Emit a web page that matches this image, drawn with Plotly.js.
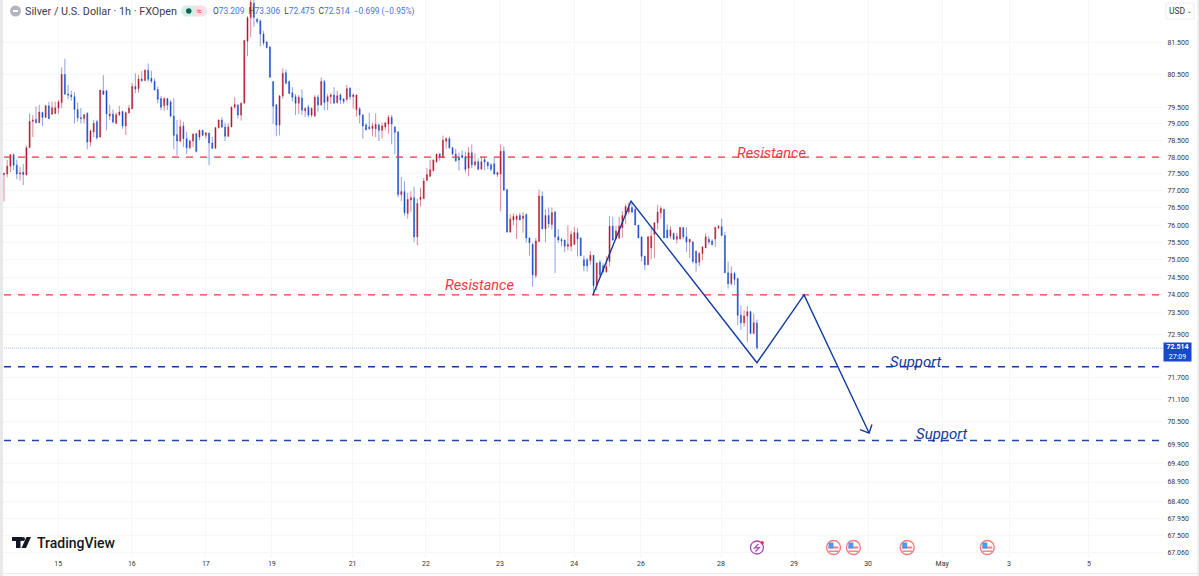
<!DOCTYPE html>
<html><head><meta charset="utf-8">
<script src="https://cdn.plot.ly/plotly-3.0.1.min.js"></script>
<style>html,body{margin:0;padding:0;background:#fff;overflow:hidden}#c{width:1199px;height:576px}</style>
</head><body><div id="c"></div>
<script>
const openP=[77.48,77.50,77.73,78.07,77.76,77.50,77.55,77.47,78.28,79.07,79.13,79.03,79.34,79.19,79.54,79.29,79.31,79.47,79.64,80.50,79.90,79.87,79.82,79.43,79.18,79.16,79.31,78.45,78.75,79.06,78.60,80.00,80.00,79.23,79.29,79.01,79.27,79.37,78.93,79.33,79.45,80.13,80.06,80.36,80.31,80.63,80.38,80.29,80.04,79.76,79.54,79.76,79.66,79.23,78.67,78.48,78.93,78.55,78.28,78.48,78.70,78.60,
78.80,78.65,78.72,78.42,78.26,78.88,79.11,78.90,78.62,78.90,79.50,79.56,79.26,79.62,81.53,82.26,82.72,82.21,82.16,81.75,81.50,81.35,80.28,79.57,78.96,79.84,80.55,80.28,79.94,79.82,79.62,79.78,79.39,79.50,79.26,79.23,79.80,79.57,80.28,79.67,79.82,79.87,79.64,79.87,79.75,79.74,80.08,79.82,79.43,79.45,79.26,78.96,78.90,78.85,78.85,78.96,78.80,78.90,78.99,79.19,78.90,78.75,
76.89,76.98,76.34,76.73,76.80,75.66,76.75,76.77,77.31,77.43,77.60,77.86,78.09,77.99,78.47,78.55,78.28,78.09,77.99,78.05,78.01,77.67,78.13,77.77,77.86,77.64,77.93,77.85,77.77,77.80,77.48,77.50,78.17,77.04,75.80,76.15,76.17,76.28,76.19,76.31,75.63,75.44,74.55,75.53,76.85,75.89,76.28,76.02,76.38,75.66,75.58,75.57,75.39,
75.39,75.44,75.78,75.63,75.00,75.00,74.98,75.13,74.28,74.93,74.83,74.66,74.95,75.97,75.60,75.63,75.92,76.28,76.38,76.51,76.46,76.00,75.66,75.10,74.86,75.34,75.73,76.07,76.36,76.46,75.86,75.68,75.76,75.59,75.60,75.93,75.66,75.51,75.51,75.25,74.93,75.18,75.34,75.59,75.54,75.60,75.92,75.95,75.70,74.63,74.32,74.61,74.47,73.43,73.22,73.41,73.53,72.92,73.209];
const highP=[77.52,77.92,78.09,78.11,77.92,77.71,77.79,78.34,79.31,79.26,79.52,79.57,79.36,79.57,79.66,79.67,79.67,79.72,80.72,80.99,80.18,80.00,79.96,79.64,79.47,79.29,79.35,78.82,79.11,79.11,80.02,80.48,80.02,79.57,79.43,79.33,79.54,79.39,79.37,79.57,80.25,80.53,80.48,80.61,80.66,80.84,80.61,80.38,80.13,79.84,79.80,79.78,79.72,79.77,79.11,79.13,79.06,78.75,78.52,78.72,78.72,78.82,
78.82,78.75,78.72,78.60,78.90,79.13,79.19,79.03,79.01,79.52,79.80,79.60,79.64,81.57,82.31,82.85,82.90,82.26,82.21,81.85,81.53,81.37,80.28,79.60,79.87,80.69,80.65,80.31,80.11,79.90,79.87,80.04,79.50,79.57,79.50,79.87,79.87,80.41,80.33,79.90,79.94,80.11,80.00,79.92,79.77,80.18,80.11,79.92,79.88,79.50,79.29,79.01,79.33,79.03,79.31,79.01,79.03,79.03,79.26,79.26,78.93,78.78,
77.41,77.28,76.94,76.99,77.12,76.77,77.09,77.38,77.67,77.91,77.93,78.09,78.13,78.64,78.59,78.61,78.30,78.25,78.13,78.20,78.16,78.30,78.38,78.11,77.96,78.03,78.01,77.86,77.82,77.99,77.57,78.38,78.32,77.04,76.31,76.34,76.31,76.36,76.38,76.34,75.64,75.49,75.63,77.04,76.99,76.46,76.51,76.51,76.41,75.88,75.63,75.58,75.99,
75.83,75.95,75.92,75.63,75.12,75.05,75.25,75.13,74.91,75.00,74.91,75.10,76.26,76.24,75.97,76.24,76.41,76.60,76.67,76.65,76.51,76.00,75.66,75.12,75.68,75.92,76.07,76.60,76.56,76.46,76.02,75.97,75.78,75.78,75.95,75.93,75.93,75.59,75.54,75.25,75.22,75.39,75.76,75.68,75.59,75.95,75.99,76.19,75.80,74.95,74.81,74.66,74.47,73.71,73.57,73.68,73.55,73.48,73.306];
const lowP=[76.69,77.40,77.56,77.61,77.34,77.30,77.17,77.47,78.28,78.60,79.03,79.03,78.93,79.19,79.15,79.26,79.29,79.29,79.47,79.87,79.74,79.70,79.01,79.06,79.01,79.01,78.23,78.32,78.60,78.52,78.58,79.87,78.80,79.11,79.01,78.99,79.23,78.85,78.66,79.31,79.44,79.92,79.94,80.28,80.31,80.28,80.23,80.02,79.62,79.41,79.39,79.41,79.19,78.23,78.04,78.45,78.30,78.09,78.24,78.30,78.14,78.50,
78.62,78.55,77.76,78.24,78.26,78.85,78.88,78.48,78.60,78.90,79.46,79.16,79.09,79.62,81.06,81.65,81.98,82.08,81.37,81.40,81.30,80.41,78.99,78.62,78.65,79.76,80.21,79.90,79.67,79.26,79.29,79.26,79.21,79.19,79.19,79.21,79.36,79.54,79.41,79.41,79.60,79.62,79.60,79.60,79.60,79.67,79.72,79.46,79.21,79.01,78.55,78.80,78.82,78.62,78.60,78.48,78.55,78.80,78.70,78.38,78.09,76.81,
76.70,76.28,76.19,76.38,75.51,75.41,76.54,76.77,77.28,77.41,77.57,77.84,77.89,77.96,78.25,78.25,78.06,77.86,77.60,77.96,77.54,77.43,77.67,77.72,77.62,77.64,77.60,77.64,77.57,77.48,77.41,76.40,77.02,75.78,75.78,76.00,75.60,76.15,75.78,75.49,75.12,74.23,74.47,75.50,75.89,75.50,75.92,75.87,74.62,75.49,75.39,75.22,75.27,
75.25,75.44,75.10,75.10,74.67,74.66,74.86,73.98,74.13,74.50,74.62,74.63,74.81,75.54,75.59,75.59,75.63,76.02,76.31,76.34,76.00,75.63,74.95,74.71,74.86,75.02,75.05,75.88,76.19,75.63,75.63,75.60,75.57,75.47,75.59,75.60,75.22,75.05,74.89,74.66,74.81,75.00,75.34,75.44,75.41,75.37,75.88,75.68,74.63,74.18,74.27,74.27,73.16,73.02,73.11,72.69,72.92,72.91,72.475];
const closeP=[77.52,77.73,78.07,77.76,77.50,77.53,77.48,78.28,79.07,79.11,79.03,79.35,79.19,79.54,79.15,79.48,79.48,79.66,80.50,79.90,79.87,79.82,79.43,79.18,79.16,79.27,78.45,78.78,79.01,78.58,80.02,79.89,79.29,79.29,79.05,79.27,79.35,78.93,79.33,79.47,80.13,80.05,80.36,80.31,80.63,80.35,80.29,80.02,79.74,79.50,79.76,79.56,79.23,78.65,78.48,78.91,78.55,78.28,78.48,78.68,78.17,78.80,
78.65,78.72,78.42,78.26,78.88,79.11,78.90,78.62,78.90,79.50,79.58,79.26,79.62,81.55,82.26,82.75,82.28,82.14,81.75,81.47,81.33,80.41,79.53,78.96,79.84,80.53,80.23,79.92,79.80,79.62,79.80,79.41,79.46,79.26,79.46,79.80,79.57,80.28,79.64,79.82,79.87,79.62,79.85,79.72,79.67,80.06,79.82,79.87,79.87,79.26,78.93,78.82,78.85,78.93,78.98,78.80,78.93,79.03,79.19,78.99,78.74,76.89,
76.98,76.36,76.75,76.80,75.66,76.63,76.81,77.29,77.48,77.62,77.91,78.09,77.99,78.50,78.55,78.28,78.09,77.89,77.91,77.99,77.64,78.13,77.77,77.86,77.64,77.86,77.85,77.74,77.64,77.50,77.54,78.17,77.02,75.80,76.17,76.25,76.26,76.15,76.26,75.63,75.49,74.57,75.54,76.85,75.89,76.28,76.04,76.36,75.66,75.57,75.54,75.39,75.44,
75.73,75.78,75.60,75.12,74.83,74.83,75.13,74.26,74.91,74.57,74.66,74.81,75.97,75.57,75.83,75.97,76.28,76.54,76.51,76.38,76.00,75.63,75.10,74.86,75.66,75.68,76.07,76.38,76.48,75.63,75.63,75.86,75.59,75.68,75.93,75.66,75.51,75.59,74.95,74.91,75.18,75.37,75.66,75.51,75.44,75.93,75.97,75.70,74.63,74.32,74.61,74.44,73.43,73.22,73.41,73.53,72.92,73.22,72.514];
const candleIdx=openP.map((_,i)=>i);

const priceTicks=[81.5,80.5,79.5,79,78.5,78,77.5,77,76.5,76,75.5,75,74.5,74,73.5,72.9,71.7,71.1,70.5,69.9,69.4,68.9,68.4,67.95,67.5,67.06];
const priceLabels=['81.500','80.500','79.500','79.000','78.500','78.000','77.500','77.000','76.500','76.000','75.500','75.000','74.500','74.000','73.500','72.900','71.700','71.100','70.500','69.900','69.400','68.900','68.400','67.950','67.500','67.060'];
const dayTicks=[16.9,39.9,63,83.6,108.8,131.7,154.8,178,198.8,223.8,246.6,269.7,292.8,313.7,338.6];
const dayLabels=['15','16','17','19','21','22','23','24','26','28','29','30','May','3','5'];

const lineEnd=361.8, lineStart=0;
const resistanceLevels=[78,74];
const supportLevels=[72,70];
const lastPrice=72.514;
const pathX=[183.8,195.7,235,249.7,270];
const pathY=[74,76.7,72.11,74,70.2];
const arrowX=[267.2,270,270.9];
const arrowY=[70.29,70.2,70.43];
const eventIdx=[235,258.9,265.1,281.9,306.9];

const RED='#f23645',BLUE='#123a9f',W=1160,H=558;
const X=p=>(p-3)/W, Y=p=>1-p/H;
const traces=[
 {type:'candlestick',x:candleIdx,open:openP,high:highP,low:lowP,close:closeP,
  increasing:{line:{color:'rgba(178,24,48,0.5)',width:1},fillcolor:'#b2182b'},
  decreasing:{line:{color:'rgba(24,72,204,0.5)',width:1},fillcolor:'#1848cc'},
  whiskerwidth:0,hoverinfo:'skip',showlegend:false}];
function hline(v,color,width,dash){traces.push({type:'scatter',mode:'lines',x:[lineStart,lineEnd],y:[v,v],line:{color,width,dash},hoverinfo:'skip',showlegend:false});}
hline(lastPrice,'#a9bdf3',1,'1px,1px');
resistanceLevels.forEach(v=>hline(v,RED,1.3,'7px,7px'));
hline(supportLevels[0],BLUE,1.6,'7px,7px');
hline(supportLevels[1],'#2646a6',1.5,'7px,7px');
traces.push({type:'scatter',mode:'lines',x:pathX,y:pathY,line:{color:BLUE,width:1.4},hoverinfo:'skip',showlegend:false});
traces.push({type:'scatter',mode:'lines',x:arrowX,y:arrowY,line:{color:BLUE,width:1.4},hoverinfo:'skip',showlegend:false});

const shapes=[
 {type:'rect',xref:'paper',yref:'paper',x0:X(0),x1:X(3),y0:Y(0),y1:Y(576),fillcolor:'#e9e9ec',line:{width:0},layer:'above'},
 {type:'rect',xref:'paper',yref:'paper',x0:X(0),x1:X(1199),y0:Y(573),y1:Y(574),fillcolor:'#e9e9ec',line:{width:0}},
 {type:'rect',xref:'paper',yref:'paper',x0:X(1197.5),x1:X(1199),y0:Y(0),y1:Y(576),fillcolor:'#e9e9ec',line:{width:0}},
 {type:'rect',xref:'paper',yref:'paper',x0:X(1166),x1:X(1194),y0:Y(3),y1:Y(19),fillcolor:'#fff',line:{color:'#eceef2',width:1}},
 {type:'circle',xref:'paper',yref:'paper',x0:X(10),x1:X(21),y0:Y(5.5),y1:Y(16.5),fillcolor:'#b2b5be',line:{width:0}},
 {type:'rect',xref:'paper',yref:'paper',x0:X(13),x1:X(18),y0:Y(10),y1:Y(12),fillcolor:'#fff',line:{width:0}},
 {type:'circle',xref:'paper',yref:'paper',x0:X(181),x1:X(192),y0:Y(5.5),y1:Y(16.5),fillcolor:'#d7eee8',line:{width:0}},
 {type:'rect',xref:'paper',yref:'paper',x0:X(186.5),x1:X(194),y0:Y(5.5),y1:Y(16.5),fillcolor:'#d7eee8',line:{width:0}},
 {type:'circle',xref:'paper',yref:'paper',x0:X(196),x1:X(207),y0:Y(5.5),y1:Y(16.5),fillcolor:'#fbdde4',line:{width:0}},
 {type:'rect',xref:'paper',yref:'paper',x0:X(194),x1:X(201.5),y0:Y(5.5),y1:Y(16.5),fillcolor:'#fbdde4',line:{width:0}},
 {type:'circle',xref:'paper',yref:'paper',x0:X(186),x1:X(191.5),y0:Y(8.2),y1:Y(13.7),fillcolor:'#056656',line:{width:0}},
 {type:'rect',xref:'paper',yref:'paper',x0:X(12),x1:X(22),y0:Y(537),y1:Y(541),fillcolor:'#131722',line:{width:0}},
 {type:'rect',xref:'paper',yref:'paper',x0:X(16),x1:X(20.5),y0:Y(537),y1:Y(548),fillcolor:'#131722',line:{width:0}},
 {type:'circle',xref:'paper',yref:'paper',x0:X(21.5),x1:X(25),y0:Y(537),y1:Y(541),fillcolor:'#131722',line:{width:0}},
 {type:'path',xref:'paper',yref:'paper',path:`M ${X(26.5)} ${Y(537)} L ${X(31)} ${Y(537)} L ${X(26)} ${Y(548)} L ${X(21.5)} ${Y(548)} Z`,fillcolor:'#131722',line:{width:0}}
];
const xaPx=i=>4+3.204*i;
const badge=eventIdx.slice(1).map(xaPx);
badge.forEach(c=>{const cy=547.5;
 shapes.push({type:'circle',xref:'paper',yref:'paper',x0:X(c-7),x1:X(c+7),y0:Y(cy-7),y1:Y(cy+7),fillcolor:'#fff',line:{color:'#f77c80',width:1.4}});
 shapes.push({type:'rect',xref:'paper',yref:'paper',x0:X(c-5),x1:X(c+5),y0:Y(cy-1),y1:Y(cy+1),fillcolor:'#f77c80',line:{width:0}});
 shapes.push({type:'rect',xref:'paper',yref:'paper',x0:X(c-5),x1:X(c+5),y0:Y(cy+3),y1:Y(cy+4.4),fillcolor:'#f77c80',line:{width:0}});
 shapes.push({type:'rect',xref:'paper',yref:'paper',x0:X(c-5),x1:X(c),y0:Y(cy-5),y1:Y(cy+1),fillcolor:'#4f97ef',line:{width:0}});
});
const lx=xaPx(eventIdx[0]);
shapes.push({type:'circle',xref:'paper',yref:'paper',x0:X(lx-6.5),x1:X(lx+6.5),y0:Y(541),y1:Y(554),fillcolor:'#fff',line:{color:'#ab47bc',width:1.3}});
shapes.push({type:'path',xref:'paper',yref:'paper',path:`M ${X(lx+1.5)} ${Y(544)} L ${X(lx-2.5)} ${Y(548)} L ${X(lx+2.5)} ${Y(547.5)} L ${X(lx-1.5)} ${Y(551.5)}`,line:{color:'#ab47bc',width:1.2}});
shapes.push({type:'circle',xref:'paper',yref:'paper',x0:X(lx+3.5),x1:X(lx+7),y0:Y(541),y1:Y(544.5),fillcolor:'#f23645',line:{width:0}});

const FONT='Roboto, "Open Sans", sans-serif';
const ann=(px,py,text,opts={})=>Object.assign({xref:'paper',yref:'paper',x:X(px),y:Y(py),text,showarrow:false,xanchor:'left',yanchor:'middle',font:{family:FONT,size:10,color:'#333'}},opts);
const annotations=[
 ann(23,11,'Silver / U.S. Dollar · 1h · FXOpen',{font:{family:FONT,size:10.8,color:'#3a3d47'}}),
 ann(199.5,11,'≈',{xanchor:'center',font:{family:FONT,size:9,color:'#f23645'}}),
 ann(211,11,'<span style="color:#444">O</span>73.209  <span style="color:#444">H</span>73.306  <span style="color:#444">L</span>72.475  <span style="color:#444">C</span>72.514  −0.699 (−0.95%)',{font:{family:FONT,size:8.35,color:'#3f74d8'}}),
 ann(1166.5,11,'USD',{font:{family:FONT,size:8.5,color:'#333'}}),
 ann(1189,10.5,'⌄',{xanchor:'center',font:{family:'DejaVu Sans',size:6,color:'#333'}}),
 ann(35,542.5,'TradingView',{font:{family:FONT,size:14,color:'#131722',weight:500}}),
 {xref:'paper',yref:'paper',x:X(1177.5),y:Y(352),text:'<b>72.514</b><br>27:09',showarrow:false,xanchor:'center',yanchor:'middle',align:'center',font:{family:FONT,size:7,color:'#fff'},bgcolor:'#1848cc',width:27,height:18,borderpad:0},
 ann(771,153.5,'<i>Resistance</i>',{xanchor:'center',font:{family:FONT,size:14.5,color:RED}}),
 ann(479,285.5,'<i>Resistance</i>',{xanchor:'center',font:{family:FONT,size:14.5,color:RED}}),
 ann(916,361.5,'<i>Support</i>',{xanchor:'center',font:{family:FONT,size:15,color:BLUE}}),
 ann(941.5,433.5,'<i>Support</i>',{xanchor:'center',font:{family:FONT,size:15,color:BLUE}})
];

const layout={width:1199,height:576,margin:{l:3,r:36,t:0,b:18},paper_bgcolor:'#fff',plot_bgcolor:'#fff',showlegend:false,
 boxgap:0.55,
 xaxis:{type:'linear',range:[(3-4)/3.204,(1163-4)/3.204],rangeslider:{visible:false},tickmode:'array',tickvals:dayTicks,ticktext:dayLabels,
  showgrid:true,gridcolor:'#f6f7f9',gridwidth:1,zeroline:false,showline:false,ticks:'',ticklen:0,tickfont:{family:FONT,size:7,color:'#333'},fixedrange:true},
 yaxis:{type:'log',side:'right',range:[Math.log10(66.93),Math.log10(82.82)],tickmode:'array',tickvals:priceTicks,ticktext:priceLabels,
  showgrid:true,gridcolor:'#f6f7f9',gridwidth:1,zeroline:false,showline:false,ticks:'outside',ticklen:2,tickcolor:'rgba(0,0,0,0)',tickfont:{family:FONT,size:7,color:'#333'},fixedrange:true},
 shapes,annotations};
Plotly.newPlot('c',traces,layout,{displayModeBar:false,staticPlot:true});
</script></body></html>
